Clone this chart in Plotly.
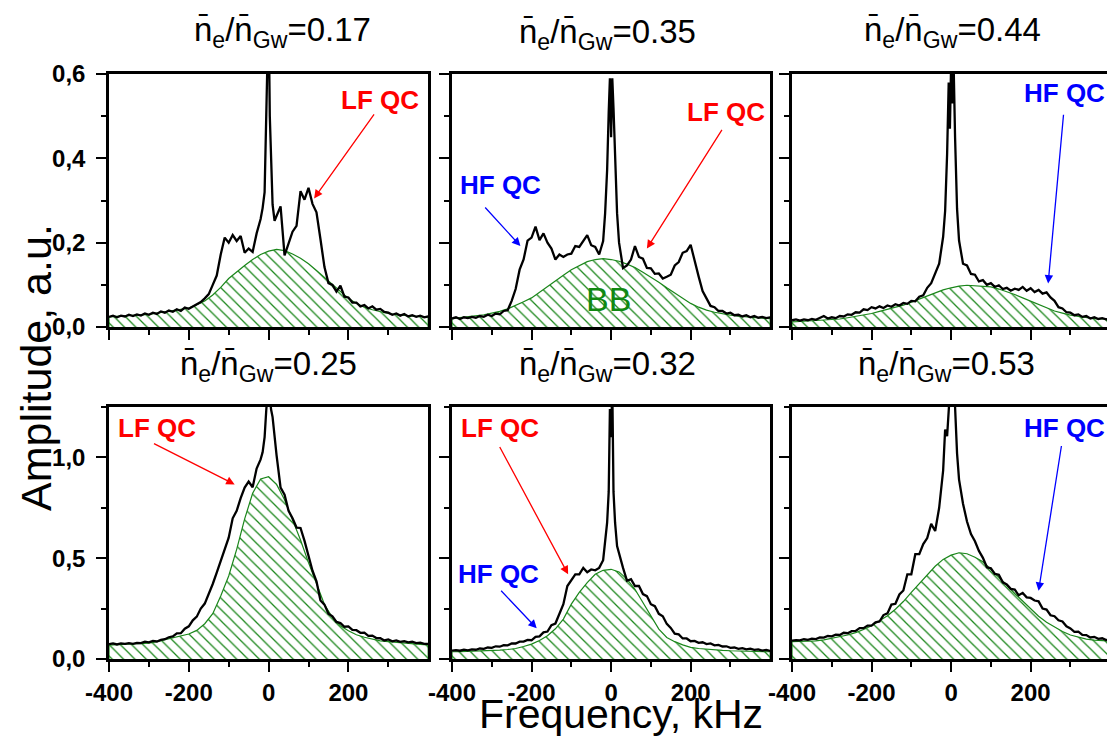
import plotly.graph_objects as go

# ---------------- data ----------------
FREQ = [-400, -390, -380, -370, -360, -350, -340, -330, -320, -310, -300, -290, -280, -270, -260,
        -250, -240, -230, -220, -210, -200, -190, -180, -170, -160, -150, -140, -130, -120, -110,
        -100, -90, -80, -70, -60, -50, -40,
        -30, -20, -15, -10, -6, -3, 0, 3, 6, 10, 15, 20, 30,
        40, 50, 60, 70, 80, 90, 100, 110, 120, 130, 140, 150, 160, 170, 180,
        190, 200, 210, 220, 230, 240, 250, 260, 270, 280, 290, 300, 310, 320, 330,
        340, 350, 360, 370, 380, 390, 400]

BB_FREQ = [-400, -380, -360, -340, -320, -300, -280, -260, -240, -220, -200, -180, -160, -140,
           -120, -100, -80, -60, -40, -20, 0, 20, 40, 60, 80, 100, 120, 140, 160, 180, 200, 220,
           240, 260, 280, 300, 320, 340, 360, 380, 400]

amp_017 = [.024, .027, .023, .027, .025, .029, .026, .030, .027, .032, .029, .034, .031, .037, .034,
           .039, .036, .042, .038, .046, .043, .049, .055, .059, .068, .078, .100, .122, .172, .212,
           .200, .218, .204, .216, .176, .186, .178,
           .222, .256, .282, .320, .450, .560, .760, .500, .380, .290, .252, .262, .286,
           .170, .196, .226, .240, .322, .302, .330, .292, .272, .208, .142, .104, .100, .084, .098,
           .072, .070, .058, .058, .049, .052, .044, .049, .041, .043, .036, .034, .029, .032, .027,
           .031, .025, .028, .024, .027, .023, .025]
bb_017 = [.024, .025, .026, .027, .028, .030, .033, .036, .039, .041, .045, .053, .062, .076, .094,
          .115, .131, .146, .160, .172, .180, .184, .181, .173, .163, .150, .134, .118, .101, .084,
          .068, .056, .047, .041, .036, .032, .029, .027, .026, .025, .024]

amp_035 = [.020, .023, .019, .023, .021, .024, .022, .026, .024, .029, .026, .032, .030, .038, .040,
           .062, .090, .136, .160, .205, .212, .238, .206, .222, .200, .186, .160, .172, .166, .172,
           .174, .192, .190, .204, .218, .194, .190,
           .172, .204, .270, .372, .510, .590, .450, .590, .520, .380, .270, .200, .140,
           .146, .160, .192, .166, .162, .140, .139, .126, .127, .115, .119, .124, .146, .154, .176,
           .180, .195, .155, .120, .085, .066, .050, .047, .038, .038, .032, .034, .028, .029, .025,
           .028, .023, .026, .022, .024, .021, .023]
bb_035 = [.020, .022, .024, .026, .029, .033, .037, .043, .051, .060, .069, .083, .097, .110, .123,
          .136, .146, .155, .160, .162, .160, .156, .149, .141, .130, .119, .106, .093, .081, .068,
          .056, .047, .040, .035, .031, .028, .026, .024, .022, .021, .020]

amp_044 = [.016, .018, .015, .018, .016, .019, .017, .021, .026, .020, .023, .021, .026, .025, .030,
           .029, .035, .034, .042, .040, .047, .044, .049, .045, .051, .048, .054, .051, .057, .055,
           .062, .061, .072, .075, .093, .104, .128,
           .150, .214, .275, .410, .580, .470, .620, .530, .640, .450, .280, .205, .150,
           .146, .126, .124, .108, .111, .100, .104, .095, .099, .090, .093, .086, .091, .088, .095,
           .086, .092, .083, .088, .079, .082, .070, .062, .047, .044, .035, .034, .028, .030, .024,
           .026, .020, .023, .019, .021, .018, .020]
bb_044 = [.012, .013, .014, .015, .016, .017, .019, .022, .025, .028, .032, .037, .042, .047, .052,
          .059, .066, .074, .081, .088, .093, .097, .099, .098, .097, .095, .090, .084, .077, .069,
          .061, .053, .045, .038, .033, .028, .025, .022, .020, .019, .018]

amp_025 = [.074, .077, .072, .077, .075, .079, .075, .080, .079, .086, .083, .090, .087, .095, .098,
           .108, .112, .127, .128, .150, .162, .192, .210, .250, .275, .322, .372, .428, .488, .552,
           .602, .698, .735, .798, .850, .880, .852,
           .945, .990, 1.025, 1.100, 1.230, 1.320, 1.400, 1.320, 1.240, 1.200, 1.100, 1.010, .850,
           .815, .735, .698, .652, .650, .586, .518, .438, .385, .290, .270, .225, .212, .184, .178,
           .160, .162, .145, .143, .130, .131, .115, .116, .104, .103, .092, .097, .088, .092, .085,
           .089, .083, .086, .079, .081, .075, .075]
bb_025 = [.069, .071, .073, .075, .077, .079, .086, .095, .103, .112, .124, .142, .175, .225, .313,
          .412, .544, .695, .822, .893, .904, .866, .790, .690, .590, .478, .370, .270, .205, .165,
          .140, .120, .108, .098, .090, .086, .082, .079, .076, .073, .070]

amp_032 = [.041, .044, .041, .046, .043, .048, .046, .052, .050, .057, .055, .063, .061, .069, .068,
           .077, .077, .086, .086, .095, .093, .110, .112, .132, .136, .168, .176, .220, .272, .362,
           .390, .420, .420, .452, .430, .444, .440,
           .452, .490, .577, .676, .830, 1.240, 1.100, 1.350, .830, .676, .560, .520, .452,
           .388, .396, .362, .362, .322, .312, .272, .262, .224, .212, .174, .154, .126, .122, .102,
           .102, .088, .090, .080, .083, .074, .077, .068, .070, .062, .063, .055, .057, .050, .054,
           .048, .051, .045, .048, .042, .045, .040]
bb_032 = [.036, .037, .038, .039, .040, .041, .044, .047, .052, .062, .074, .092, .115, .150, .198,
          .272, .330, .379, .420, .440, .445, .432, .396, .346, .280, .214, .148, .107, .086, .070,
          .058, .052, .048, .045, .043, .041, .040, .039, .038, .037, .036]

amp_053 = [.091, .094, .092, .098, .095, .101, .099, .107, .106, .114, .112, .121, .119, .130, .128,
           .138, .139, .153, .153, .166, .166, .182, .186, .218, .226, .270, .274, .320, .340, .420,
           .420, .520, .520, .570, .600, .670, .635,
           .750, .935, 1.138, 1.105, 1.300, 1.380, 1.420, 1.380, 1.300, 1.250, 1.020, .890, .770,
           .682, .620, .584, .536, .502, .455, .450, .422, .418, .380, .370, .348, .344, .316, .328,
           .306, .303, .290, .286, .250, .245, .217, .212, .192, .186, .162, .152, .135, .136, .120,
           .119, .107, .110, .100, .103, .094, .096]
bb_053 = [.086, .087, .088, .090, .095, .102, .110, .119, .131, .146, .165, .188, .215, .247, .285,
          .330, .375, .418, .460, .494, .515, .527, .522, .505, .482, .445, .407, .366, .325, .286,
          .247, .212, .182, .157, .136, .119, .108, .099, .094, .091, .089]

TITLES = ["0.17", "0.35", "0.44", "0.25", "0.32", "0.53"]
X_TICKS = [-400, -200, 0, 200]
X_TICK_TEXT = ["-400", "-200", "0", "200"]
Y_TICKS_TOP = [0.0, 0.2, 0.4, 0.6]
Y_TICKS_BOT = [0.0, 0.5, 1.0]

panels = [
    (amp_017, bb_017), (amp_035, bb_035), (amp_044, bb_044),
    (amp_025, bb_025), (amp_032, bb_032), (amp_053, bb_053),
]

# ---------------- layout geometry ----------------
W, H = 1107, 740
col_px = [(109, 428), (452, 770), (792, 1107)]
row_px = [(74, 327), (407, 659)]
x_ranges = [[-400, 399.5], [-400, 399.5], [-400, 392]]
y_ranges = [[0, 0.6], [0, 1.25]]

FONT = "Arial, Liberation Sans, sans-serif"
GREEN = "#1a861a"

fig = go.Figure()

for i, (amp, bb) in enumerate(panels):
    r, c = divmod(i, 3)
    xa = "x" if i == 0 else f"x{i+1}"
    ya = "y" if i == 0 else f"y{i+1}"
    fig.add_trace(go.Scatter(
        x=[-400] + BB_FREQ + [400], y=[0] + bb + [0],
        mode="lines", fill="toself", fillcolor="rgba(255,255,255,0)",
        fillpattern=dict(shape="\\", fgcolor=GREEN, bgcolor="rgba(255,255,255,0)",
                         size=8, solidity=0.16),
        line=dict(color=GREEN, width=1.2), xaxis=xa, yaxis=ya, hoverinfo="skip"))
    fig.add_trace(go.Scatter(
        x=FREQ, y=amp, mode="lines", line=dict(color="black", width=2.3),
        xaxis=xa, yaxis=ya))

    x0, x1 = col_px[c]
    y0, y1 = row_px[r]
    axis_common = dict(showline=True, linecolor="black", linewidth=2.5, mirror=True,
                       ticks="outside", ticklen=10, tickwidth=2, tickcolor="black",
                       showgrid=False, zeroline=False, automargin=False,
                       tickfont=dict(family=FONT, size=24, color="black", weight="bold"))
    xname = "xaxis" if i == 0 else f"xaxis{i+1}"
    yname = "yaxis" if i == 0 else f"yaxis{i+1}"
    fig.update_layout(**{
        xname: dict(domain=[x0 / W, x1 / W], range=x_ranges[c], anchor=ya,
                    tickvals=X_TICKS, ticktext=X_TICK_TEXT,
                    minor=dict(dtick=100, tick0=-400, ticks="outside", ticklen=5,
                               tickwidth=2, tickcolor="black"),
                    showticklabels=(r == 1), ticklabelstandoff=0, **axis_common),
        yname: dict(domain=[1 - y1 / H, 1 - y0 / H], range=y_ranges[r], anchor=xa,
                    tickvals=Y_TICKS_TOP if r == 0 else Y_TICKS_BOT, tickformat=".1f",
                    minor=dict(dtick=0.1 if r == 0 else 0.25, tick0=0, ticks="outside",
                               ticklen=5, tickwidth=2, tickcolor="black"),
                    showticklabels=(c == 0), ticklabelstandoff=6, **axis_common),
    })

# ---------------- annotations ----------------
ann = []
title_pos = [(282, 32), (607, 34), (952, 32), (268, 366), (607, 366), (946, 366)]
for i, t in enumerate(TITLES):
    px, py = title_pos[i]
    ann.append(dict(text=f"n\u0304<sub>e</sub>/n\u0304<sub>Gw</sub>={t}",
                    x=px / W, y=1 - py / H, xref="paper", yref="paper",
                    xanchor="center", yanchor="middle", showarrow=False,
                    font=dict(family=FONT, size=33, color="black")))

def ax_names(i):
    return ("x" if i == 0 else f"x{i+1}", "y" if i == 0 else f"y{i+1}")

RED, BLUE = "#ff0000", "#0000ff"
labels = [
    # panel, text, color, text x, text y
    (0, "LF QC", RED, 278, 0.538),
    (1, "HF QC", BLUE, -277, 0.336),
    (1, "LF QC", RED, 289, 0.511),
    (2, "HF QC", BLUE, 285, 0.554),
    (3, "LF QC", RED, -280, 1.146),
    (4, "LF QC", RED, -280, 1.146),
    (4, "HF QC", BLUE, -282, 0.42),
    (5, "HF QC", BLUE, 285, 1.146),
]
for p, txt, col, tx, ty in labels:
    xa, ya = ax_names(p)
    ann.append(dict(text=f"<b>{txt}</b>", x=tx, y=ty, xref=xa, yref=ya, showarrow=False,
                    xanchor="center", yanchor="middle",
                    font=dict(family=FONT, size=26, color=col)))

arrows = [
    # panel, color, tail x, tail y, head x, head y
    (0, RED, 267, 0.508, 114, 0.305),
    (1, BLUE, -320, 0.287, -228, 0.192),
    (1, RED, 281, 0.471, 90, 0.186),
    (2, BLUE, 283, 0.507, 244, 0.103),
    (3, RED, -291, 1.072, -85, 0.866),
    (4, RED, -282, 1.059, -108, 0.42),
    (4, BLUE, -280, 0.346, -187, 0.152),
    (5, BLUE, 278, 1.064, 220, 0.338),
]
for p, col, tx, ty, hx, hy in arrows:
    xa, ya = ax_names(p)
    ann.append(dict(text="", x=hx, y=hy, ax=tx, ay=ty, xref=xa, yref=ya, axref=xa, ayref=ya,
                    showarrow=True, arrowhead=2, arrowsize=1.3, arrowwidth=1.3,
                    arrowcolor=col, standoff=0, startstandoff=0))

# BB label
ann.append(dict(text="BB", x=-7, y=0.067, xref="x2", yref="y2", showarrow=False,
                xanchor="center", yanchor="middle",
                font=dict(family=FONT, size=34, color="#118811")))

# axis titles
ann.append(dict(text="Amplitude, a.u.", x=36 / W, y=1 - 368 / H, xref="paper", yref="paper",
                textangle=-90, showarrow=False, xanchor="center", yanchor="middle",
                font=dict(family=FONT, size=43, color="black")))
ann.append(dict(text="Frequency, kHz", x=621 / W, y=1 - 714 / H, xref="paper", yref="paper",
                showarrow=False, xanchor="center", yanchor="middle",
                font=dict(family=FONT, size=41, color="black")))

fig.update_layout(
    width=W, height=H, margin=dict(l=0, r=0, t=0, b=0),
    template="none", showlegend=False,
    paper_bgcolor="white", plot_bgcolor="white",
    separators=", ",
    annotations=ann,
    font=dict(family=FONT),
)

fig.write_html("out.html")
